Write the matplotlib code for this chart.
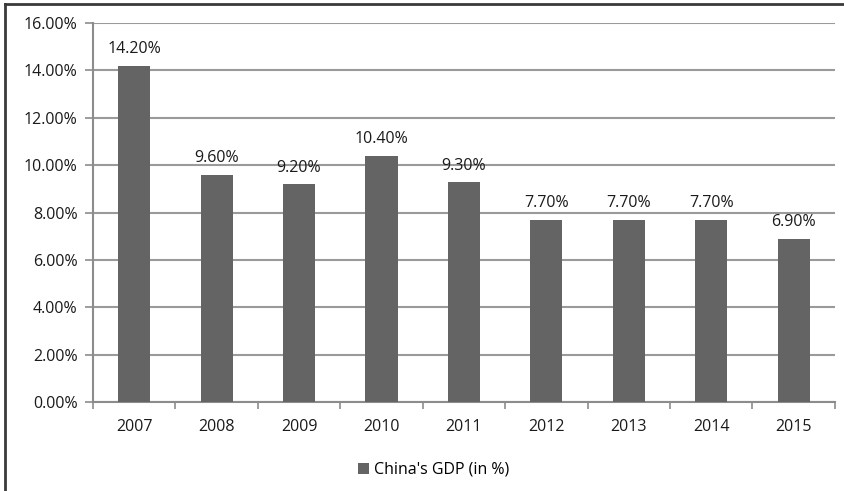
import matplotlib
matplotlib.use("Agg")
import matplotlib.pyplot as plt
from matplotlib.lines import Line2D
from matplotlib.ticker import FuncFormatter, MultipleLocator
import numpy as np

years = ["2007", "2008", "2009", "2010", "2011", "2012", "2013", "2014", "2015"]
gdp = [14.20, 9.60, 9.20, 10.40, 9.30, 7.70, 7.70, 7.70, 6.90]
series_label = "China's GDP (in %)"

plt.rcParams['font.family'] = ['Open Sans', 'DejaVu Sans']
fig = plt.figure(figsize=(8.45, 4.91), dpi=100)
ax = fig.add_axes([0.110, 0.181, 0.878, 0.772])

x = np.arange(len(years))
bars = ax.bar(x, gdp, width=0.39, color='#646464', zorder=3, label=series_label)
for xi, v in zip(x, gdp):
    ax.text(xi, v + 0.35, f"{v:.2f}%", ha='center', va='bottom', fontsize=11.5, color='#1a1a1a', zorder=4)

ax.set_xlim(-0.5, len(years) - 0.5)
ax.set_ylim(0, 16)
ax.yaxis.set_major_locator(MultipleLocator(2))
ax.yaxis.set_major_formatter(FuncFormatter(lambda v, p: f"{v:.2f}%"))
ax.set_xticks(x)
ax.set_xticklabels(years)
ax.set_xticks(np.arange(-0.5, len(years), 1), minor=True)
ax.tick_params(axis='x', which='major', length=0, pad=12, labelsize=11.5, colors='#1a1a1a')
ax.tick_params(axis='x', which='minor', length=5, width=1.2, color='#8c8c8c', direction='out')
ax.tick_params(axis='y', length=6, width=1.2, color='#8c8c8c', labelsize=11.5, labelcolor='#1a1a1a', pad=5)
ax.grid(axis='y', color='#9a9a9a', linewidth=1.5, zorder=0)
for s in ['top', 'right']:
    ax.spines[s].set_visible(False)
for s in ['left', 'bottom']:
    ax.spines[s].set_color('#8c8c8c')
    ax.spines[s].set_linewidth(1.5)

fig.legend(handles=[bars], labels=[series_label], loc='center', bbox_to_anchor=(0.513, 0.043),
           frameon=False, fontsize=11.5, handlelength=0.7, handleheight=0.7, handletextpad=0.3)

# Outer frame: only top and left edges are visible in the reference
fig.lines.append(Line2D([0.006, 1.0], [0.991, 0.991], transform=fig.transFigure, color='#3a3a3a', linewidth=2))
fig.lines.append(Line2D([0.006, 0.006], [0.0, 0.991], transform=fig.transFigure, color='#3a3a3a', linewidth=2))

fig.savefig("out.png", dpi=100)
